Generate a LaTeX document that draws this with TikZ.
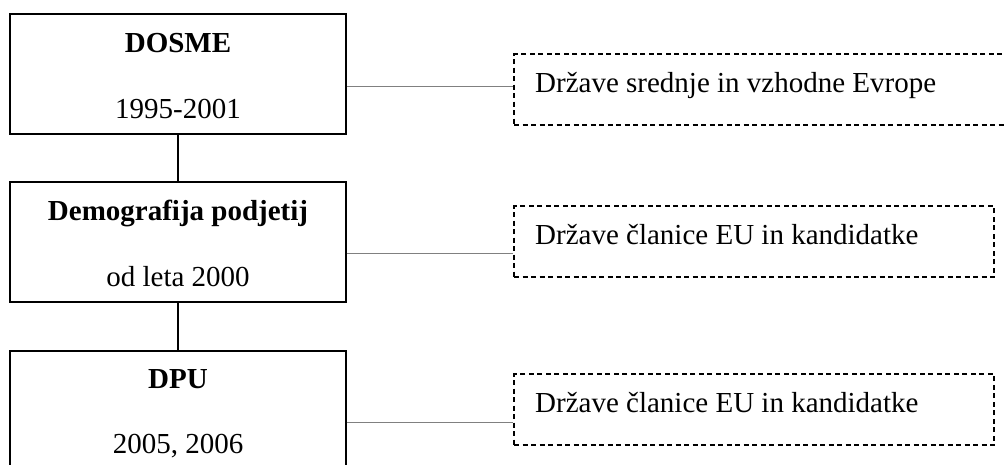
\documentclass[tikz,border=0pt]{standalone}
\usepackage{fontspec}
\setmainfont{Liberation Serif}
\begin{document}
\begin{tikzpicture}[x=1pt,y=-1pt,
  mainbox/.style={draw,line width=1.4pt,minimum width=336pt,minimum height=120pt,inner sep=0pt},
  sidebox/.style={draw,line width=1.2pt,dash pattern=on 5pt off 3.5pt,minimum height=71pt,inner sep=0pt},
  txt/.style={inner sep=0pt,anchor=base,font=\fontsize{29}{34}\selectfont},
  btxt/.style={txt,font=\fontsize{29}{34}\selectfont\bfseries},
  stxt/.style={txt,anchor=base west},
  vlink/.style={line width=1.3pt},
  hlink/.style={draw=black!50,line width=0.9pt}]
\useasboundingbox (0,0) rectangle (1006,464);
\clip (0,0) rectangle (1006,464);
% left boxes
\node[mainbox] (b1) at (178,74) {};
\node[mainbox] (b2) at (178,242) {};
\node[mainbox] (b3) at (178,411) {};
\node[btxt] (t1a) at (178,52) {DOSME};
\node[txt] (t1b) at (178,118) {1995-2001};
\node[btxt] (t2a) at (178,220) {Demografija podjetij};
\node[txt] (t2b) at (178,286) {od leta 2000};
\node[btxt] (t3a) at (178,388) {DPU};
\node[txt] (t3b) at (178,453) {2005, 2006};
% right dashed boxes
\node[sidebox,minimum width=506pt] (r1) at (767,89.5) {};
\node[sidebox,minimum width=480pt] (r2) at (754,241.5) {};
\node[sidebox,minimum width=480pt] (r3) at (754,409.5) {};
\node[stxt] (s1) at (535,92) {Države srednje in vzhodne Evrope};
\node[stxt] (s2) at (535,244) {Države članice EU in kandidatke};
\node[stxt] (s3) at (535,412) {Države članice EU in kandidatke};
% connectors
\draw[vlink] (b1.south) -- (b2.north);
\draw[vlink] (b2.south) -- (b3.north);
\coordinate (c1) at ([yshift=3.5pt]r1.west);
\coordinate (c2) at ([yshift=-11.5pt]r2.west);
\coordinate (c3) at ([yshift=-12.5pt]r3.west);
\draw[hlink] (b1.east |- c1) -- (c1);
\draw[hlink] (b2.east |- c2) -- (c2);
\draw[hlink] (b3.east |- c3) -- (c3);
\end{tikzpicture}
\end{document}
